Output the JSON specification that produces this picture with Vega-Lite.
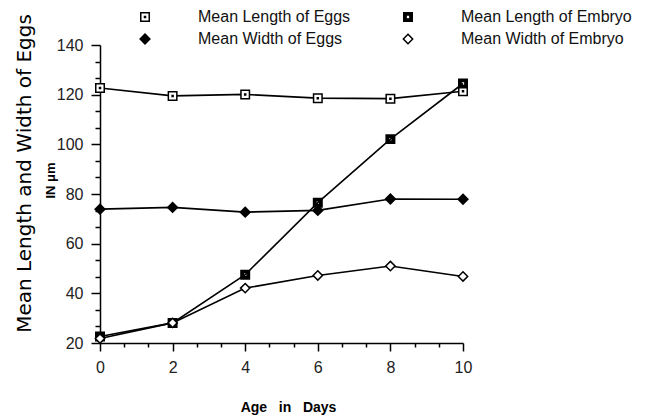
{
  "$schema": "https://vega.github.io/schema/vega-lite/v6.json",
  "width": 363,
  "height": 298,
  "autosize": "none",
  "padding": {"left": 100, "top": 45, "right": 185, "bottom": 73},
  "background": "white",
  "config": {
    "view": {"stroke": null},
    "font": "Liberation Sans",
    "axis": {
      "grid": false,
      "domainColor": "black",
      "domainWidth": 1.5,
      "tickColor": "black",
      "tickWidth": 1.5,
      "labelColor": "#222222",
      "labelFont": "Liberation Sans",
      "labelFontSize": 16,
      "labelFlush": false,
      "labelOverlap": false,
      "titleColor": "black"
    }
  },
  "data": {
    "values": [
      {"day": 0, "series": "Mean Length of Eggs", "value": 122.7},
      {"day": 2, "series": "Mean Length of Eggs", "value": 119.5},
      {"day": 4, "series": "Mean Length of Eggs", "value": 120.1},
      {"day": 6, "series": "Mean Length of Eggs", "value": 118.6},
      {"day": 8, "series": "Mean Length of Eggs", "value": 118.4},
      {"day": 10, "series": "Mean Length of Eggs", "value": 121.4},
      {"day": 0, "series": "Mean Width of Eggs", "value": 73.9},
      {"day": 2, "series": "Mean Width of Eggs", "value": 74.6},
      {"day": 4, "series": "Mean Width of Eggs", "value": 72.7},
      {"day": 6, "series": "Mean Width of Eggs", "value": 73.4},
      {"day": 8, "series": "Mean Width of Eggs", "value": 78.0},
      {"day": 10, "series": "Mean Width of Eggs", "value": 77.9},
      {"day": 0, "series": "Mean Length of Embryo", "value": 22.6},
      {"day": 2, "series": "Mean Length of Embryo", "value": 28.1},
      {"day": 4, "series": "Mean Length of Embryo", "value": 47.5},
      {"day": 6, "series": "Mean Length of Embryo", "value": 76.5},
      {"day": 8, "series": "Mean Length of Embryo", "value": 102.1},
      {"day": 10, "series": "Mean Length of Embryo", "value": 124.5},
      {"day": 0, "series": "Mean Width of Embryo", "value": 21.8},
      {"day": 2, "series": "Mean Width of Embryo", "value": 28.1},
      {"day": 4, "series": "Mean Width of Embryo", "value": 42.1},
      {"day": 6, "series": "Mean Width of Embryo", "value": 47.2},
      {"day": 8, "series": "Mean Width of Embryo", "value": 51.0},
      {"day": 10, "series": "Mean Width of Embryo", "value": 46.8}
    ]
  },
  "layer": [
    {
      "mark": {"type": "line", "color": "black", "strokeWidth": 1.6},
      "encoding": {
        "detail": {"field": "series"},
        "x": {
          "field": "day",
          "type": "quantitative",
          "scale": {"domain": [0, 10], "nice": false, "zero": false},
          "axis": {
            "values": [0, 2, 4, 6, 8, 10],
            "tickSize": 8,
            "labelPadding": 8,
            "title": "Age\u00a0\u00a0\u00a0in\u00a0\u00a0\u00a0Days",
            "titleFont": "Liberation Sans",
            "titleFontWeight": "bold",
            "titleFontSize": 14,
            "titleX": 188,
            "titleY": 64,
            "titleAlign": "center",
            "titleBaseline": "middle"
          }
        },
        "y": {
          "field": "value",
          "type": "quantitative",
          "scale": {"domain": [20, 140], "nice": false, "zero": false},
          "axis": {
            "values": [20, 40, 60, 80, 100, 120, 140],
            "tickSize": 9,
            "labelPadding": 8,
            "title": "Mean Length and Width of Eggs",
            "titleFont": "DejaVu Sans",
            "titleFontSize": 20,
            "titleFontWeight": "normal",
            "titleAngle": -90,
            "titleX": -76,
            "titleY": 128,
            "titleAlign": "center",
            "titleBaseline": "middle"
          }
        }
      }
    },
    {
      "mark": {"type": "point", "stroke": "black", "strokeWidth": 1.5, "opacity": 1, "fillOpacity": 1, "size": 72},
      "encoding": {
        "x": {
          "field": "day",
          "type": "quantitative",
          "axis": {
            "orient": "bottom",
            "values": [0.6667, 1.3333, 2.6667, 3.3333, 4.6667, 5.3333, 6.6667, 7.3333, 8.6667, 9.3333],
            "tickSize": 4,
            "labels": false,
            "domain": false,
            "title": null
          }
        },
        "y": {
          "field": "value",
          "type": "quantitative",
          "axis": {
            "orient": "left",
            "values": [26.667, 33.333, 46.667, 53.333, 66.667, 73.333, 86.667, 93.333, 106.667, 113.333, 126.667, 133.333],
            "tickSize": 5,
            "labels": false,
            "domain": false,
            "title": "IN μm",
            "titleFont": "Liberation Sans",
            "titleFontWeight": "bold",
            "titleFontSize": 13,
            "titleAngle": -90,
            "titleX": -50,
            "titleY": 135,
            "titleAlign": "center",
            "titleBaseline": "middle"
          }
        },
        "shape": {
          "field": "series",
          "type": "nominal",
          "scale": {
            "domain": ["Mean Length of Eggs", "Mean Width of Eggs", "Mean Length of Embryo", "Mean Width of Embryo"],
            "range": [
              "M-1,-1H1V1H-1ZM-0.12,-0.12H0.12V0.12H-0.12Z",
              "M0,-1.15L1.15,0L0,1.15L-1.15,0Z",
              "M-1,-1H1V1H-1ZM-0.45,-0.45V0.45H0.45V-0.45Z",
              "M0,-1.1L1.1,0L0,1.1L-1.1,0Z"
            ]
          },
          "legend": {
            "title": null,
            "orient": "none",
            "legendX": 37,
            "legendY": -36,
            "columns": 2,
            "padding": 0,
            "rowPadding": 6,
            "columnPadding": 49,
            "symbolSize": 72,
            "symbolStrokeWidth": 1.5,
            "labelOffset": 45,
            "labelFont": "Liberation Sans",
            "labelFontSize": 16,
            "labelColor": "#111111",
            "labelLimit": 300
          }
        },
        "fill": {
          "field": "series",
          "type": "nominal",
          "scale": {
            "domain": ["Mean Length of Eggs", "Mean Width of Eggs", "Mean Length of Embryo", "Mean Width of Embryo"],
            "range": ["white", "black", "black", "white"]
          },
          "legend": {
            "title": null,
            "orient": "none",
            "legendX": 37,
            "legendY": -36,
            "columns": 2,
            "padding": 0,
            "rowPadding": 6,
            "columnPadding": 49,
            "symbolSize": 72,
            "symbolStrokeWidth": 1.5,
            "labelOffset": 45,
            "labelFont": "Liberation Sans",
            "labelFontSize": 16,
            "labelColor": "#111111",
            "labelLimit": 300
          }
        }
      }
    }
  ],
  "resolve": {"axis": {"x": "independent", "y": "independent"}}
}
